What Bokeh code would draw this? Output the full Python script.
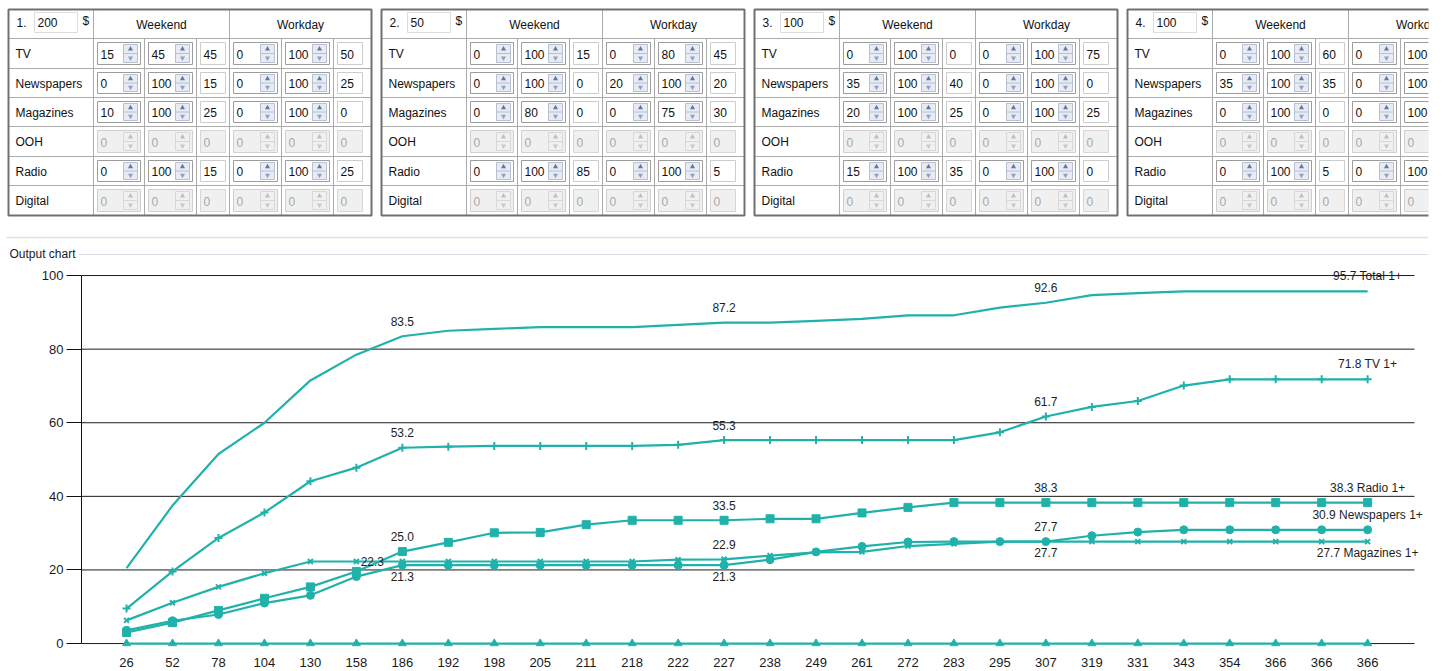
from bokeh.plotting import figure
from bokeh.models import ColumnDataSource, LabelSet, FixedTicker, Range1d
from bokeh.layouts import column
from bokeh.embed import file_html
from bokeh.resources import INLINE
from bokeh.core.properties import value

FONT = "Liberation Sans"
TEAL = "#20B2AA"

# ---------------- chart data ----------------
X_LABELS = ["26", "52", "78", "104", "130", "158", "186", "192", "198", "205",
            "211", "218", "222", "227", "238", "249", "261", "272", "283", "295",
            "307", "319", "331", "343", "354", "366", "366", "366"]
TOTAL = [20.5, 37.5, 51.5, 60.0, 71.5, 78.5, 83.5, 85.0, 85.5, 86.0,
         86.0, 86.0, 86.6, 87.2, 87.2, 87.7, 88.2, 89.2, 89.2, 91.3,
         92.6, 94.7, 95.2, 95.7, 95.7, 95.7, 95.7, 95.7]
TV = [9.5, 19.6, 28.7, 35.6, 44.1, 47.8, 53.2, 53.5, 53.7, 53.7,
      53.7, 53.7, 54.0, 55.3, 55.3, 55.3, 55.3, 55.3, 55.3, 57.4,
      61.7, 64.3, 65.9, 70.1, 71.8, 71.8, 71.8, 71.8]
RADIO = [3.0, 5.7, 9.0, 12.3, 15.4, 19.6, 25.0, 27.5, 30.1, 30.2,
         32.3, 33.5, 33.5, 33.5, 33.9, 33.9, 35.5, 37.0, 38.3, 38.3,
         38.3, 38.3, 38.3, 38.3, 38.3, 38.3, 38.3, 38.3]
NEWSPAPERS = [3.6, 6.2, 7.9, 11.0, 13.1, 18.2, 21.3, 21.3, 21.3, 21.3,
              21.3, 21.3, 21.3, 21.3, 22.8, 24.9, 26.4, 27.6, 27.7, 27.7,
              27.7, 29.3, 30.3, 30.9, 30.9, 30.9, 30.9, 30.9]
MAGAZINES = [6.3, 11.1, 15.4, 19.1, 22.3, 22.3, 22.3, 22.3, 22.3, 22.3,
             22.3, 22.3, 22.8, 22.9, 23.9, 24.8, 24.9, 26.5, 27.1, 27.7,
             27.7, 27.7, 27.7, 27.7, 27.7, 27.7, 27.7, 27.7]
DIGITAL = [0.0, 0.0, 0.0, 0.0, 0.0, 0.0, 0.0, 0.0, 0.0, 0.0,
           0.0, 0.0, 0.0, 0.0, 0.0, 0.0, 0.0, 0.0, 0.0, 0.0,
           0.0, 0.0, 0.0, 0.0, 0.0, 0.0, 0.0, 0.0]
Y_TICKS = [0, 20, 40, 60, 80, 100]

SERIES = {
    "Total": (TOTAL, None, 0),
    "TV": (TV, "cross", 8),
    "Radio": (RADIO, "square", 8),
    "Newspapers": (NEWSPAPERS, "circle", 8),
    "Magazines": (MAGAZINES, "x", 7),
    "Digital": (DIGITAL, "triangle", 8),
}
DRAW_ORDER = ["Digital", "Magazines", "Newspapers", "Radio", "TV", "Total"]

VALUE_LABELS = [
    ("Total", 6, "above"), ("TV", 6, "above"), ("Radio", 6, "above"),
    ("Newspapers", 6, "below"), ("Magazines", 6, "left"),
    ("Total", 13, "above"), ("TV", 13, "above"), ("Radio", 13, "above"),
    ("Magazines", 13, "above"), ("Newspapers", 13, "below"),
    ("Total", 20, "above"), ("TV", 20, "above"), ("Radio", 20, "above"),
    ("Newspapers", 20, "above"), ("Magazines", 20, "below"),
]
END_LABELS = [("Total", "above"), ("TV", "above"), ("Radio", "above"),
              ("Newspapers", "above"), ("Magazines", "below")]
OFFSETS = {"above": (0, 15), "below": (0, -11), "left": (-30, 0)}

# ---------------- input panel data ----------------
ROW_NAMES = ["TV", "Newspapers", "Magazines", "OOH", "Radio", "Digital"]
ROW_ENABLED = [True, True, True, False, True, False]
PANEL_BUDGETS = [200, 50, 100, 100]
P1_WEEKEND = [[15, 45, 45], [0, 100, 15], [10, 100, 25], [0, 0, 0], [0, 100, 15], [0, 0, 0]]
P1_WORKDAY = [[0, 100, 50], [0, 100, 25], [0, 100, 0], [0, 0, 0], [0, 100, 25], [0, 0, 0]]
P2_WEEKEND = [[0, 100, 15], [0, 100, 0], [0, 80, 0], [0, 0, 0], [0, 100, 85], [0, 0, 0]]
P2_WORKDAY = [[0, 80, 45], [20, 100, 20], [0, 75, 30], [0, 0, 0], [0, 100, 5], [0, 0, 0]]
P3_WEEKEND = [[0, 100, 0], [35, 100, 40], [20, 100, 25], [0, 0, 0], [15, 100, 35], [0, 0, 0]]
P3_WORKDAY = [[0, 100, 75], [0, 100, 0], [0, 100, 25], [0, 0, 0], [0, 100, 0], [0, 0, 0]]
P4_WEEKEND = [[0, 100, 60], [35, 100, 35], [0, 100, 0], [0, 0, 0], [0, 100, 5], [0, 0, 0]]
P4_WORKDAY = [[0, 100, 0], [0, 100, 0], [0, 100, 0], [0, 0, 0], [0, 100, 0], [0, 0, 0]]
PANELS = [(P1_WEEKEND, P1_WORKDAY), (P2_WEEKEND, P2_WORKDAY),
          (P3_WEEKEND, P3_WORKDAY), (P4_WEEKEND, P4_WORKDAY)]

# layout constants (page pixels)
PANEL_LEFT0 = 8
PANEL_STRIDE = 373
COL_EDGES = [0, 85, 136, 188, 221, 273, 325, 363]
ROW_EDGES = [9, 38, 68, 97, 126, 156, 185, 215]
TOP_H = 262
CHART_H = 407
PAGE_W = 1437
CLIP_X = 1428

# ---------------- build top (input panels) figure ----------------
quads = dict(l=[], r=[], t=[], b=[], fill=[], line=[])
outer = dict(l=[], r=[], t=[], b=[])
segs = dict(x0=[], y0=[], x1=[], y1=[], color=[])
txt_l = dict(x=[], y=[], text=[], color=[])
txt_c = dict(x=[], y=[], text=[], color=[])
tri_up = dict(x=[], y=[], color=[])
tri_dn = dict(x=[], y=[], color=[])


def add_quad(l, r, t, b, fill, line):
    if l >= CLIP_X:
        return
    quads["l"].append(l); quads["r"].append(r)
    quads["t"].append(t); quads["b"].append(b)
    quads["fill"].append(fill); quads["line"].append(line)


def add_seg(x0, y0, x1, y1, color):
    if min(x0, x1) >= CLIP_X:
        return
    segs["x0"].append(x0); segs["y0"].append(y0)
    segs["x1"].append(x1); segs["y1"].append(y1)
    segs["color"].append(color)


def add_text(d, x, y, s, color):
    if x >= CLIP_X:
        return
    d["x"].append(x); d["y"].append(y); d["text"].append(s); d["color"].append(color)


for k, (wk, wd) in enumerate(PANELS):
    px = PANEL_LEFT0 + k * PANEL_STRIDE
    top_y, bot_y = ROW_EDGES[0], ROW_EDGES[-1]
    # header
    add_text(txt_l, px + 8, 22, f"{k + 1}.", "#111111")
    add_quad(px + 26, px + 69, 12, 32, "#FFFFFF", "#DCDCDC")
    add_text(txt_l, px + 29, 22, str(PANEL_BUDGETS[k]), "#111111")
    add_text(txt_l, px + 74, 20, "$", "#111111")
    add_text(txt_c, px + (COL_EDGES[1] + COL_EDGES[4]) / 2, 24.5, "Weekend", "#111111")
    add_text(txt_c, px + (COL_EDGES[4] + COL_EDGES[7]) / 2, 24.5, "Workday", "#111111")
    # cell grid
    for ry in ROW_EDGES[1:-1]:
        add_seg(px, ry, px + COL_EDGES[-1], ry, "#ABABAB")
    for ci in range(1, 7):
        y0 = top_y if ci in (1, 4) else ROW_EDGES[1]
        add_seg(px + COL_EDGES[ci], y0, px + COL_EDGES[ci], bot_y, "#ABABAB")
    # rows
    for r, name in enumerate(ROW_NAMES):
        ry0, ry1 = ROW_EDGES[r + 1], ROW_EDGES[r + 2]
        yc = (ry0 + ry1) / 2 + 0.5
        add_text(txt_l, px + 7, yc, name, "#111111")
        en = ROW_ENABLED[r]
        vals = list(wk[r]) + list(wd[r])
        for c in range(1, 7):
            v = vals[c - 1]
            bl = px + COL_EDGES[c] + 4
            bt, bb = ry0 + 4, ry1 - 4
            if bl >= CLIP_X:
                continue
            if c in (3, 6):
                br = bl + 25
                add_quad(bl, br, bt, bb, "#FFFFFF" if en else "#F0F0F0",
                         "#CDCDCD" if en else "#D6D6D6")
                add_text(txt_l, bl + 3, yc, str(v), "#111111" if en else "#A8A8A8")
            else:
                br = px + COL_EDGES[c + 1] - 4
                add_quad(bl, br, bt, bb, "#FFFFFF" if en else "#F0F0F0",
                         "#9C9C9C" if en else "#CFCFCF")
                add_text(txt_l, bl + 3, yc, str(v), "#111111" if en else "#A8A8A8")
                sl, sr, st, sb = br - 17, br - 3, bt + 2, bb - 2
                mid = (st + sb) / 2
                add_quad(sl, sr, st, sb, "#E8EBF1" if en else "#F0F0F0",
                         "#B7C1D1" if en else "#D8D8D8")
                add_seg(sl, mid, sr, mid, "#B7C1D1" if en else "#D8D8D8")
                cx = (sl + sr) / 2
                if cx < CLIP_X:
                    tri_up["x"].append(cx); tri_up["y"].append((st + mid) / 2)
                    tri_up["color"].append("#5F78AA" if en else "#BDBDBD")
                    tri_dn["x"].append(cx); tri_dn["y"].append((mid + sb) / 2)
                    tri_dn["color"].append("#8EA2C9" if en else "#C8C8C8")
    # outer border
    outer["l"].append(px); outer["r"].append(px + COL_EDGES[-1])
    outer["t"].append(top_y); outer["b"].append(bot_y)

top = figure(width=PAGE_W, height=TOP_H, x_range=Range1d(0, CLIP_X),
             y_range=Range1d(TOP_H, 0), output_backend="svg",
             toolbar_location=None, x_axis_location=None, y_axis_location=None,
             min_border_left=0, min_border_right=PAGE_W - CLIP_X,
             min_border_top=0, min_border_bottom=0)
top.outline_line_color = None
top.xgrid.visible = False
top.ygrid.visible = False

top.quad(left="l", right="r", top="t", bottom="b", fill_color="fill",
         line_color="line", line_width=1, source=ColumnDataSource(quads))
top.segment(x0="x0", y0="y0", x1="x1", y1="y1", line_color="color",
            line_width=1, source=ColumnDataSource(segs))
top.quad(left="l", right="r", top="t", bottom="b", fill_color=None,
         line_color="#707070", line_width=2, source=ColumnDataSource(outer))
top.scatter(x="x", y="y", marker="triangle", size=5, fill_color="color",
            line_color=None, source=ColumnDataSource(tri_up))
top.scatter(x="x", y="y", marker="inverted_triangle", size=5, fill_color="color",
            line_color=None, source=ColumnDataSource(tri_dn))
top.text(x="x", y="y", text="text", text_color="color", text_font=value(FONT),
         text_font_size="12px", text_baseline="middle", text_align="left",
         source=ColumnDataSource(txt_l))
top.text(x="x", y="y", text="text", text_color="color", text_font=value(FONT),
         text_font_size="12px", text_baseline="middle", text_align="center",
         source=ColumnDataSource(txt_c))

# separator and "Output chart" group caption
top.segment(x0=[6], y0=[237], x1=[CLIP_X], y1=[237], line_color="#DCE2E8", line_width=1.5)
top.segment(x0=[78], y0=[254], x1=[CLIP_X], y1=[254], line_color="#D8DFE7", line_width=1)
top.text(x=[9], y=[253], text=["Output chart"], text_color="#1A1A1A",
         text_font=value(FONT), text_font_size="12px", text_baseline="middle",
         text_align="left")

# ---------------- chart figure ----------------
n = len(X_LABELS)
xs = list(range(n))
X_START, X_GRID_END, X_END = -0.98, n + 0.02, n + 0.52
p = figure(width=PAGE_W, height=CHART_H, x_range=Range1d(X_START, X_END),
           y_range=Range1d(-0.8, 103), output_backend="svg",
           toolbar_location=None, min_border_left=81, min_border_right=0,
           min_border_top=2, min_border_bottom=23)
p.outline_line_color = None
p.xgrid.visible = False
p.ygrid.visible = False

# horizontal grid lines (end where the chart area ends)
p.segment(x0=[X_START] * len(Y_TICKS), y0=Y_TICKS, x1=[X_GRID_END] * len(Y_TICKS),
          y1=Y_TICKS, line_color="#1C1C1C", line_width=1, level="underlay")

p.yaxis.ticker = FixedTicker(ticks=Y_TICKS)
p.yaxis.bounds = (0, 100)
p.yaxis.axis_line_color = "#111111"
p.yaxis.major_tick_line_color = "#111111"
p.yaxis.major_tick_out = 15
p.yaxis.major_tick_in = 0
p.yaxis.minor_tick_line_color = None
p.yaxis.major_label_standoff = 3
p.yaxis.major_label_text_font = FONT
p.yaxis.major_label_text_font_size = "13px"
p.yaxis.major_label_text_color = "#1A1A1A"

p.xaxis.ticker = FixedTicker(ticks=xs)
p.xaxis.major_label_overrides = {i: lab for i, lab in enumerate(X_LABELS)}
p.xaxis.axis_line_color = None
p.xaxis.major_tick_line_color = None
p.xaxis.minor_tick_line_color = None
p.xaxis.major_label_standoff = 5
p.xaxis.major_label_text_font = FONT
p.xaxis.major_label_text_font_size = "13px"
p.xaxis.major_label_text_color = "#1A1A1A"

for name in DRAW_ORDER:
    ys, marker, size = SERIES[name]
    src = ColumnDataSource(dict(x=xs, y=ys))
    p.line(x="x", y="y", source=src, line_color=TEAL, line_width=2.2)
    if marker is not None:
        if marker in ("cross", "x"):
            p.scatter(x="x", y="y", source=src, marker=marker, size=size,
                      line_color=TEAL, line_width=2)
        else:
            p.scatter(x="x", y="y", source=src, marker=marker, size=size,
                      fill_color=TEAL, line_color=TEAL)

lab = dict(x=[], y=[], text=[], dx=[], dy=[])
for name, idx, place in VALUE_LABELS:
    v = SERIES[name][0][idx]
    dx, dy = OFFSETS[place]
    lab["x"].append(idx); lab["y"].append(v); lab["text"].append(f"{v:.1f}")
    lab["dx"].append(dx); lab["dy"].append(dy)
for name, place in END_LABELS:
    v = SERIES[name][0][n - 1]
    dx, dy = OFFSETS[place]
    lab["x"].append(n - 1); lab["y"].append(v)
    lab["text"].append(f"{v:.1f} {name} 1+")
    lab["dx"].append(dx); lab["dy"].append(dy)

p.add_layout(LabelSet(x="x", y="y", text="text", x_offset="dx", y_offset="dy",
                      source=ColumnDataSource(lab), text_align="center",
                      text_baseline="middle", text_font=value(FONT),
                      text_font_size="12px", text_color="#1E1E1E"))

for f in (top, p):
    try:
        f.frame_align = False
    except Exception:
        pass

layout = column(top, p)
open("out.html", "w").write(file_html(layout, INLINE, title="Output chart"))
